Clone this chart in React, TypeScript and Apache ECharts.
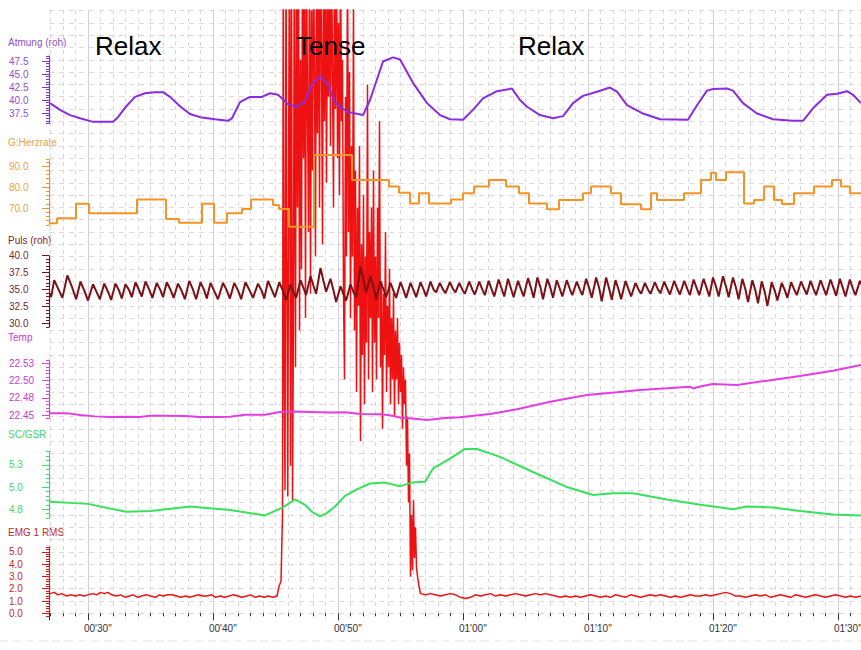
import { useEffect, useRef } from "react";
import * as echarts from "echarts";

// ---------- data (time in seconds, value) ----------
const atmung: [number, number][] = [
  [26.96, 39.4], [27.76, 38.1], [28.56, 37.1], [29.36, 36.5], [30.4, 35.8], [32.0, 35.8], [32.4, 36.7],
  [32.96, 38.5], [33.76, 40.6], [34.56, 41.3], [35.36, 41.5], [36.0, 41.5], [36.56, 40.6], [37.36, 38.8],
  [38.16, 37.3], [38.96, 36.7], [40.16, 36.3], [41.2, 36.0], [41.52, 36.5], [42.16, 39.6], [42.96, 40.6],
  [43.92, 40.6], [44.56, 41.3], [45.2, 41.0], [46.0, 39.2], [46.64, 38.7], [47.28, 39.5], [47.92, 43.0],
  [48.56, 44.6], [49.2, 43.0], [49.76, 39.5], [50.72, 37.75], [52.0, 37.1], [52.56, 40.0], [53.6, 47.4],
  [54.4, 48.2], [54.96, 47.8], [56.0, 43.3], [57.12, 39.4], [58.16, 37.1], [58.96, 36.3], [60.0, 36.2],
  [60.8, 38.1], [61.6, 40.3], [62.72, 41.7], [63.92, 42.2], [64.56, 40.0], [65.12, 38.7], [66.16, 37.1],
  [67.2, 36.5], [68.0, 36.9], [68.8, 39.4], [69.6, 40.8], [70.72, 41.6], [71.76, 42.4], [72.32, 41.6],
  [73.12, 39.0], [74.4, 37.4], [75.76, 36.3], [78.0, 36.2], [78.72, 39.0], [79.52, 41.8], [80.0, 42.1],
  [81.12, 42.2], [81.6, 41.8], [82.4, 39.4], [83.52, 37.4], [84.8, 36.3], [86.4, 36.0], [87.2, 36.0],
  [88.0, 38.4], [89.12, 41.0], [89.92, 41.2], [90.72, 41.7], [91.2, 41.0], [91.84, 39.4],
];

// step starts: [time, value]
const herzrate: [number, number][] = [
  [26.96, 62.7], [27.52, 65.1], [29.04, 72], [30.08, 67.5], [33.92, 74.1], [36.24, 64.8], [37.28, 63],
  [39.12, 72], [40.08, 63], [41.12, 67.5], [42.32, 69.5], [43.04, 74], [44.8, 71.4], [45.28, 69.5],
  [46.08, 61.1], [48.08, 95.2], [51.12, 83.3], [54.08, 80.2], [54.88, 77.3], [55.76, 72.2], [56.48, 77],
  [57.28, 72.2], [59.04, 74.1], [60.0, 77], [60.88, 80.2], [62.08, 83.3], [63.44, 80.2], [64.48, 77],
  [65.28, 72.2], [66.72, 69.4], [67.68, 73.8], [69.6, 77], [70.24, 80.2], [71.84, 77], [72.64, 71.8],
  [74.24, 69.4], [75.04, 77], [75.52, 73.8], [77.68, 77], [79.04, 83.3], [79.84, 86.8], [80.24, 83.3],
  [81.04, 87], [82.48, 72.2], [83.28, 73.8], [84.08, 80.2], [84.88, 73.8], [85.52, 71.9], [86.48, 77],
  [88.08, 80.2], [89.52, 83.3], [90.24, 80.2], [90.96, 77], [91.84, 77],
];

const puls: [number, number][] = [
  [26.96, 34.5], [27.05, 33.9], [27.3, 36.4], [27.6, 35.2], [27.95, 33.8], [28.35, 37.1], [28.7, 35.5],
  [29.05, 33.6], [29.4, 36.2], [29.7, 34.9], [30.0, 33.4], [30.4, 35.8], [30.7, 34.6], [30.95, 33.6],
  [31.3, 35.9], [31.6, 34.7], [31.85, 33.5], [32.2, 35.9], [32.5, 34.8], [32.7, 33.7], [33.0, 35.8],
  [33.3, 34.9], [33.5, 33.9], [33.8, 36.1], [34.05, 35.1], [34.3, 34.0], [34.6, 36.2], [34.9, 35.0],
  [35.15, 33.8], [35.5, 36.0], [35.8, 34.9], [36.0, 33.9], [36.3, 36.1], [36.6, 35.0], [36.85, 33.8],
  [37.2, 35.9], [37.5, 34.8], [37.75, 33.6], [38.1, 36.3], [38.4, 35.0], [38.65, 33.6], [39.0, 36.1],
  [39.3, 34.9], [39.5, 33.7], [39.8, 36.0], [40.1, 34.8], [40.4, 33.6], [40.8, 36.0], [41.1, 34.9],
  [41.35, 33.7], [41.7, 36.0], [42.0, 34.9], [42.25, 33.6], [42.6, 36.1], [42.9, 35.0], [43.2, 33.8],
  [43.6, 35.9], [43.9, 34.8], [44.1, 33.7], [44.4, 36.3], [44.7, 35.0], [44.95, 33.9], [45.3, 36.1],
  [45.6, 34.8], [45.85, 33.5], [46.2, 35.8], [46.45, 34.6], [46.65, 33.8], [47.0, 36.4], [47.25, 35.2],
  [47.45, 34.2], [47.8, 37.0], [48.05, 35.5], [48.25, 34.4], [48.6, 38.2], [48.85, 36.2], [49.05, 34.7],
  [49.4, 36.6], [49.65, 34.8], [49.85, 33.2], [50.2, 35.5], [50.45, 34.3], [50.65, 33.4], [51.0, 35.8],
  [51.25, 34.6], [51.45, 33.9], [51.8, 38.4], [52.05, 36.3], [52.25, 34.6], [52.6, 37.0], [52.85, 35.3],
  [53.05, 33.6], [53.4, 36.2], [53.65, 35.0], [53.85, 33.9], [54.2, 36.0], [54.45, 34.8], [54.65, 33.8],
  [55.0, 36.1], [55.25, 34.9], [55.45, 33.8], [55.8, 36.0], [56.05, 34.9], [56.25, 33.9], [56.6, 36.1],
  [56.85, 35.0], [57.05, 34.0], [57.4, 36.2], [57.65, 35.0], [57.85, 34.6], [58.15, 36.0], [58.4, 35.0],
  [58.6, 34.5], [58.95, 36.1], [59.2, 35.1], [59.4, 34.6], [59.7, 36.0], [59.95, 35.0], [60.15, 34.4],
  [60.5, 36.2], [60.75, 35.0], [60.95, 34.3], [61.3, 36.2], [61.55, 35.0], [61.75, 34.2], [62.05, 36.3],
  [62.3, 35.0], [62.5, 34.0], [62.85, 36.5], [63.1, 35.1], [63.3, 34.0], [63.6, 36.6], [63.85, 35.1],
  [64.05, 33.9], [64.4, 36.3], [64.65, 35.0], [64.85, 34.0], [65.2, 36.7], [65.45, 35.2], [65.65, 33.8],
  [65.95, 36.8], [66.2, 35.3], [66.4, 33.6], [66.75, 36.6], [67.0, 35.2], [67.2, 33.8], [67.5, 36.4],
  [67.75, 35.1], [67.95, 34.0], [68.3, 36.4], [68.55, 35.1], [68.75, 34.2], [69.1, 36.2], [69.35, 35.0],
  [69.55, 34.2], [69.85, 36.6], [70.1, 35.2], [70.3, 33.8], [70.65, 36.8], [70.9, 35.2], [71.1, 33.3],
  [71.45, 36.8], [71.7, 35.1], [71.9, 33.5], [72.2, 36.4], [72.45, 35.0], [72.65, 33.6], [73.0, 36.3],
  [73.25, 35.0], [73.45, 34.0], [73.8, 36.0], [74.05, 35.0], [74.25, 34.4], [74.55, 36.0], [74.8, 35.0],
  [75.0, 34.4], [75.35, 36.1], [75.6, 35.0], [75.8, 34.5], [76.1, 36.2], [76.35, 35.1], [76.55, 34.3],
  [76.9, 36.3], [77.15, 35.1], [77.35, 34.3], [77.7, 36.3], [77.95, 35.1], [78.15, 34.2], [78.45, 36.5],
  [78.7, 35.2], [78.9, 34.2], [79.25, 36.6], [79.5, 35.2], [79.7, 34.0], [80.0, 36.8], [80.25, 35.4],
  [80.45, 34.0], [80.8, 37.0], [81.05, 35.4], [81.25, 33.9], [81.6, 36.8], [81.85, 35.2], [82.05, 33.6],
  [82.35, 36.6], [82.6, 35.0], [82.8, 33.2], [83.15, 36.4], [83.4, 34.8], [83.6, 33.0], [83.9, 36.2],
  [84.15, 34.6], [84.35, 32.6], [84.7, 36.1], [84.95, 34.8], [85.15, 33.4], [85.5, 36.0], [85.75, 34.9],
  [85.95, 33.8], [86.25, 36.1], [86.5, 35.0], [86.7, 34.2], [87.05, 36.2], [87.3, 35.1], [87.5, 34.3],
  [87.8, 36.3], [88.05, 35.1], [88.25, 34.2], [88.6, 36.4], [88.85, 35.2], [89.05, 34.2], [89.4, 36.5],
  [89.65, 35.2], [89.85, 34.1], [90.15, 36.6], [90.4, 35.2], [90.6, 34.0], [90.95, 36.5], [91.2, 35.1],
  [91.4, 34.2], [91.75, 36.3], [91.84, 35.8],
];

const temp: [number, number][] = [
  [26.96, 22.4525], [27.76, 22.4525], [28.56, 22.452], [29.36, 22.45], [30.56, 22.448], [31.76, 22.447],
  [32.96, 22.4475], [34.16, 22.447], [34.96, 22.449], [36.16, 22.449], [37.76, 22.4485], [38.96, 22.447],
  [40.16, 22.447], [41.36, 22.4475], [42.56, 22.4505], [44.16, 22.4505], [45.36, 22.4545], [46.56, 22.455],
  [47.76, 22.4545], [49.36, 22.4535], [50.56, 22.454], [51.76, 22.4515], [53.36, 22.451], [54.16, 22.4495],
  [54.96, 22.4465], [56.16, 22.4445], [57.12, 22.4427], [58.56, 22.4455], [59.76, 22.4467], [62.16, 22.4515],
  [64.32, 22.4583], [66.96, 22.4693], [69.92, 22.479], [72.32, 22.483], [74.16, 22.4863], [76.32, 22.4888],
  [78.16, 22.4911], [78.4, 22.4885], [78.96, 22.4915], [79.96, 22.4951], [81.92, 22.4936], [84.32, 22.4999],
  [86.96, 22.5067], [89.6, 22.5144], [91.84, 22.5227],
];

const gsr: [number, number][] = [
  [26.96, 4.834], [30.0, 4.81], [33.04, 4.72], [35.04, 4.73], [38.16, 4.78], [41.36, 4.74], [44.16, 4.68],
  [45.6, 4.77], [46.56, 4.86], [47.36, 4.8], [47.92, 4.72], [48.56, 4.67], [49.04, 4.7], [49.76, 4.78],
  [50.56, 4.9], [51.6, 4.98], [52.56, 5.04], [53.76, 5.05], [54.96, 5.01], [55.92, 5.05], [56.96, 5.06],
  [57.6, 5.21], [58.96, 5.32], [60.16, 5.43], [61.12, 5.43], [62.96, 5.34], [65.6, 5.17], [68.32, 5.0],
  [70.4, 4.91], [72.0, 4.93], [73.6, 4.93], [76.32, 4.86], [79.0, 4.8], [81.6, 4.75], [82.72, 4.78],
  [84.8, 4.77], [86.96, 4.73], [89.6, 4.69], [91.84, 4.68],
];

const emg: [number, number][] = [
  [26.96, 1.6], [27.3, 1.7], [27.6, 1.5], [27.9, 1.6], [28.3, 1.4], [28.6, 1.5], [29.0, 1.4], [29.3, 1.5],
  [29.7, 1.4], [30.0, 1.5], [30.4, 1.6], [30.7, 1.5], [31.0, 1.7], [31.3, 1.6], [31.6, 1.7], [31.9, 1.5],
  [32.3, 1.4], [32.6, 1.5], [33.0, 1.3], [33.3, 1.4], [33.6, 1.5], [34.0, 1.3], [34.3, 1.4], [34.7, 1.5],
  [35.0, 1.4], [35.4, 1.3], [35.7, 1.5], [36.0, 1.4], [36.4, 1.5], [36.7, 1.5], [37.1, 1.4], [37.4, 1.3],
  [37.8, 1.4], [38.1, 1.3], [38.5, 1.4], [38.8, 1.5], [39.2, 1.4], [39.5, 1.4], [39.9, 1.5], [40.2, 1.3],
  [40.6, 1.4], [40.9, 1.3], [41.3, 1.4], [41.6, 1.5], [42.0, 1.4], [42.3, 1.3], [42.7, 1.4], [43.0, 1.5],
  [43.4, 1.3], [43.7, 1.4], [44.1, 1.3], [44.4, 1.4], [44.8, 1.3], [45.12, 1.4], [45.28, 2.2], [45.44, 2.6],
  [45.56, 8], [45.62, 55], [45.7, 18], [45.76, 10], [45.84, 55], [45.9, 30], [45.98, 9.5], [46.06, 40],
  [46.12, 55], [46.2, 12], [46.28, 55], [46.36, 9.2], [46.44, 25], [46.5, 55], [46.6, 20], [46.68, 55],
  [46.76, 33], [46.84, 55], [46.92, 23], [47.0, 45], [47.08, 28], [47.16, 55], [47.24, 37], [47.32, 55],
  [47.4, 24], [47.48, 55], [47.56, 41], [47.64, 31], [47.72, 55], [47.8, 26], [47.88, 49], [47.96, 36],
  [48.04, 55], [48.12, 44], [48.2, 29], [48.28, 55], [48.36, 39], [48.44, 55], [48.52, 33], [48.6, 55],
  [48.68, 46], [48.76, 30], [48.84, 55], [48.92, 40], [49.0, 55], [49.08, 35], [49.16, 50], [49.24, 42],
  [49.32, 55], [49.4, 38], [49.48, 55], [49.56, 44], [49.64, 33], [49.72, 55], [49.8, 41], [49.88, 55],
  [49.96, 37], [50.04, 48], [50.12, 34], [50.2, 55], [50.28, 40], [50.36, 45], [50.44, 26], [50.52, 19],
  [50.6, 42], [50.68, 29], [50.76, 55], [50.84, 31], [50.92, 44], [51.0, 24], [51.08, 38], [51.16, 29],
  [51.24, 50], [51.32, 23], [51.4, 36], [51.48, 18], [51.56, 33], [51.64, 25], [51.72, 38], [51.8, 14],
  [51.88, 30], [51.96, 21], [52.04, 34], [52.12, 17], [52.2, 29], [52.28, 22], [52.36, 43], [52.44, 19],
  [52.52, 31], [52.6, 24], [52.68, 33], [52.76, 18], [52.84, 36], [52.92, 22], [53.0, 29], [53.08, 19],
  [53.16, 33], [53.24, 24], [53.32, 40], [53.4, 20], [53.48, 27], [53.56, 15], [53.64, 26], [53.72, 21],
  [53.8, 31], [53.88, 18], [53.96, 25], [54.04, 20], [54.12, 28], [54.2, 17], [54.28, 24], [54.36, 19],
  [54.44, 26], [54.52, 16], [54.6, 23], [54.68, 19], [54.76, 24], [54.84, 17], [54.92, 22], [55.0, 18],
  [55.08, 21], [55.16, 15], [55.24, 20], [55.32, 17], [55.4, 19], [55.48, 12], [55.56, 16], [55.64, 9],
  [55.72, 13], [55.8, 3], [55.88, 8], [55.96, 3.5], [56.04, 9.2], [56.12, 4.5], [56.2, 7], [56.28, 3.7],
  [56.36, 3], [56.48, 2.2], [56.6, 1.6], [57.0, 1.5], [57.4, 1.6], [57.8, 1.5], [58.2, 1.4],
  [58.6, 1.5], [59.0, 1.6], [59.4, 1.5], [59.8, 1.3], [60.2, 1.2], [60.6, 1.3], [61.0, 1.5], [61.4, 1.4],
  [61.8, 1.5], [62.2, 1.6], [62.6, 1.4], [63.0, 1.5], [63.4, 1.4], [63.8, 1.5], [64.2, 1.6], [64.6, 1.5],
  [65.0, 1.4], [65.4, 1.5], [65.8, 1.6], [66.2, 1.5], [66.6, 1.6], [67.0, 1.5], [67.4, 1.4], [67.8, 1.3],
  [68.2, 1.4], [68.6, 1.3], [69.0, 1.4], [69.4, 1.3], [69.8, 1.4], [70.2, 1.5], [70.6, 1.4], [71.0, 1.3],
  [71.4, 1.4], [71.8, 1.3], [72.2, 1.5], [72.6, 1.4], [73.0, 1.3], [73.4, 1.5], [73.8, 1.4], [74.2, 1.3],
  [74.6, 1.4], [75.0, 1.5], [75.4, 1.4], [75.8, 1.5], [76.2, 1.4], [76.6, 1.3], [77.0, 1.4], [77.4, 1.3],
  [77.8, 1.4], [78.2, 1.5], [78.6, 1.4], [79.0, 1.4], [79.4, 1.5], [79.8, 1.4], [80.2, 1.5], [80.6, 1.6],
  [81.0, 1.7], [81.4, 1.6], [81.8, 1.4], [82.2, 1.4], [82.6, 1.3], [83.0, 1.4], [83.4, 1.5], [83.8, 1.4],
  [84.2, 1.5], [84.6, 1.3], [85.0, 1.4], [85.4, 1.5], [85.8, 1.4], [86.2, 1.3], [86.6, 1.5], [87.0, 1.4],
  [87.4, 1.3], [87.8, 1.4], [88.2, 1.5], [88.6, 1.4], [89.0, 1.3], [89.4, 1.4], [89.8, 1.5], [90.2, 1.4],
  [90.6, 1.3], [91.0, 1.4], [91.4, 1.3], [91.84, 1.4],
];

// ---------- axis tick values & labels ----------
const atmungTicks = [37.5, 40, 42.5, 45, 47.5];
const atmungLabels = ["37.5", "40.0", "42.5", "45.0", "47.5"];
const herzTicks = [70, 80, 90];
const herzLabels = ["70.0", "80.0", "90.0"];
const pulsTicks = [30, 32.5, 35, 37.5, 40];
const pulsLabels = ["30.0", "32.5", "35.0", "37.5", "40.0"];
const tempTicks = [22.45, 22.475, 22.5, 22.525];
const tempLabels = ["22.45", "22.48", "22.50", "22.53"];
const gsrTicks = [4.75, 5.0, 5.25];
const gsrLabels = ["4.8", "5.0", "5.3"];
const emgTicks = [0, 1, 2, 3, 4, 5];
const emgLabels = ["0.0", "1.0", "2.0", "3.0", "4.0", "5.0"];

const channelNames = ["Atmung (roh)", "G:Herzrate", "Puls (roh)", "Temp", "SC/GSR", "EMG 1 RMS"];
const phaseLabels = ["Relax", "Tense", "Relax"];

const X_MIN = 26.88;
const X_MAX = 91.84;
const FONT = "'Liberation Sans', Arial, sans-serif";

const fmtTime = (v: number) => {
  const r = Math.round(v);
  if (Math.abs(v - r) > 1e-6 || r % 10 !== 0) return "";
  const m = Math.floor(r / 60);
  const s = r % 60;
  return `${String(m).padStart(2, "0")}'${String(s).padStart(2, "0")}"`;
};

export default function App() {
  const ref = useRef<HTMLDivElement>(null);
  useEffect(() => {
    if (!ref.current) return;
    const chart = echarts.init(ref.current, null, { renderer: "svg" });

    const panels = [
      { top: 55.8, height: 67.6, min: 35.5, max: 48.5, minor: 0.5, ticks: atmungTicks, labels: atmungLabels, line: "#8a2be2", label: "#9050cc", titleY: 43, data: atmung, step: false },
      { top: 159.7, height: 65.1, min: 62, max: 93, minor: 2, ticks: herzTicks, labels: herzLabels, line: "#f39425", label: "#e8a54a", titleY: 143, data: herzrate, step: true },
      { top: 255.7, height: 71.4, min: 29.5, max: 40, minor: 0.5, ticks: pulsTicks, labels: pulsLabels, line: "#7a1216", label: "#7a2630", titleY: 241, data: puls, step: false },
      { top: 359.96, height: 58.48, min: 22.445, max: 22.53, minor: 0.005, ticks: tempTicks, labels: tempLabels, line: "#e23ee2", label: "#cc3acc", titleY: 338, data: temp, step: false },
      { top: 451.6, height: 66.45, min: 4.65, max: 5.4, minor: 0.05, ticks: gsrTicks, labels: gsrLabels, line: "#38e25a", label: "#44d466", titleY: 435, data: gsr, step: false },
      { top: 546.9, height: 68.88, min: -0.2, max: 5.4, minor: 0.2, ticks: emgTicks, labels: emgLabels, line: "#ee1111", label: "#c42a2a", titleY: 533, data: null as any, step: false },
    ];

    const grids: any[] = [
      { left: 49, right: 0, top: 10, height: 603.3, outerBoundsMode: "none" },
    ];
    const xAxes: any[] = [
      {
        type: "value", gridIndex: 0, min: X_MIN, max: X_MAX,
        axisLine: { show: false },
        axisTick: { show: true, length: 7, lineStyle: { color: "#333" } },
        minorTick: { show: true, splitNumber: 10, length: 3, lineStyle: { color: "#333" } },
        axisLabel: { formatter: fmtTime, color: "#333", fontSize: 10, fontFamily: FONT, margin: 10, align: "left", padding: [0, 0, 0, -4] },
        splitLine: { show: true, showMinLine: false, showMaxLine: false, lineStyle: { color: "#cfcfe6", width: 1, type: "solid" } },
        minorSplitLine: { show: true, lineStyle: { color: "#d6d6e4", width: 1, type: [4, 4] } },
      },
    ];
    const yAxes: any[] = [
      {
        type: "value", gridIndex: 0, min: 0, max: 603.3 / 12.3, interval: 1,
        axisLine: { show: false }, axisTick: { show: false }, axisLabel: { show: false },
        splitLine: { show: true, lineStyle: { color: "#e6d6df", width: 1, type: [5, 5] } },
      },
    ];
    const series: any[] = [
      {
        type: "line", xAxisIndex: 0, yAxisIndex: 0, data: emg, showSymbol: false, z: 2,
        lineStyle: { color: "#ee1111", width: 1.5 }, clip: true,
      },
    ];
    const graphics: any[] = [];

    panels.forEach((p, i) => {
      const g = i + 1;
      grids.push({ left: 49, right: 0, top: p.top, height: p.height, outerBoundsMode: "none" });
      xAxes.push({ type: "value", gridIndex: g, min: X_MIN, max: X_MAX, show: false });
      const lookup = (v: number) => {
        for (let k = 0; k < p.ticks.length; k++) if (Math.abs(v - p.ticks[k]) < 1e-6) return p.labels[k];
        return "";
      };
      yAxes.push({
        type: "value", gridIndex: g, position: "left", min: p.min, max: p.max,
        axisLine: { show: true, lineStyle: { color: p.line, width: 1 } },
        axisTick: { show: true, length: 7, customValues: p.ticks, lineStyle: { color: p.line } },
        axisLabel: { show: true, customValues: p.ticks, formatter: lookup, align: "left", margin: 40, color: p.label, fontSize: 10, fontFamily: FONT },
        splitLine: { show: false },
      });
      yAxes.push({
        type: "value", gridIndex: g, position: "left", offset: 0, min: p.min, max: p.max, interval: p.minor,
        axisLine: { show: false },
        axisTick: { show: true, length: 3, lineStyle: { color: p.line } },
        axisLabel: { show: false },
        splitLine: { show: false },
      });
      if (p.data) {
        series.push({
          type: "line", xAxisIndex: g, yAxisIndex: yAxes.length - 2, data: p.data, showSymbol: false,
          step: p.step ? "end" : false, clip: false, z: 3,
          lineStyle: { color: p.line, width: 2 },
        });
      }
      graphics.push({
        type: "text", left: 8, top: p.titleY - 6,
        style: { text: channelNames[i], fill: p.label, fontSize: 10, fontFamily: FONT },
      });
    });

    const phaseX = [95, 296, 518];
    phaseLabels.forEach((t, i) => {
      graphics.push({
        type: "text", left: phaseX[i], top: 33, z: 10,
        style: { text: t, fill: "#000", fontSize: 26, fontFamily: FONT },
      });
    });
    graphics.push({
      type: "line", shape: { x1: 0, y1: 641, x2: 861, y2: 641 },
      style: { stroke: "#e2e2ea", lineWidth: 1, lineDash: [8, 5] },
    });

    chart.setOption({
      animation: false,
      backgroundColor: "#fff",
      grid: grids,
      xAxis: xAxes,
      yAxis: yAxes,
      series,
      graphic: graphics,
    });
    return () => chart.dispose();
  }, []);

  return <div ref={ref} style={{ position: "fixed", left: 0, top: 0, width: 861, height: 650 }} />;
}
